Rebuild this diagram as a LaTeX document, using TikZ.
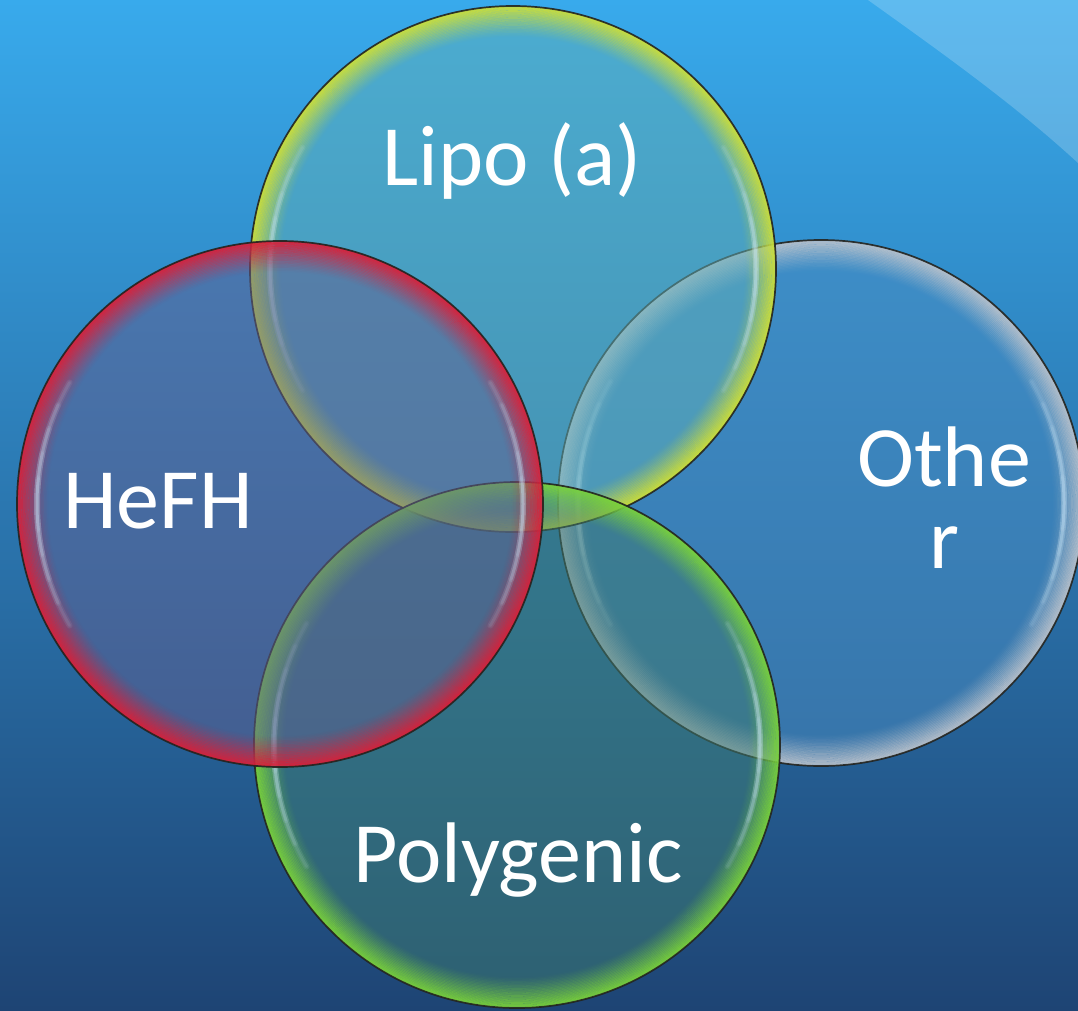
\documentclass[tikz,border=0pt]{standalone}
\usepackage{fontspec}
\setmainfont{Carlito}
\definecolor{bgtop}{RGB}{56,170,236}
\definecolor{bgmid}{RGB}{43,124,186}
\definecolor{bgbot}{RGB}{30,68,116}
\definecolor{lipofill}{RGB}{96,176,184}
\definecolor{hefhfill}{RGB}{98,96,146}
\definecolor{otherfill}{RGB}{74,140,194}
\definecolor{polyfill}{RGB}{62,124,112}
\definecolor{lipoglow}{RGB}{212,226,48}
\definecolor{hefhglow}{RGB}{225,28,52}
\definecolor{otherglow}{RGB}{190,196,204}
\definecolor{polyglow}{RGB}{125,215,55}
\definecolor{hilite}{RGB}{205,232,250}
\definecolor{rim}{RGB}{35,35,30}
\tikzset{
  bubble/.style={circle, minimum size=526pt, inner sep=0pt, outer sep=0pt},
  label text/.style={text=white, font=\fontsize{86}{82}\selectfont, inner sep=0pt},
}
% #1 name, #2 fill, #3 glow colour
\newcommand\mybubble[3]{%
  \fill[#2, opacity=0.5] (#1.center) circle[radius=263];
  \foreach \i [evaluate=\i as \op using {0.88*(1-\i/22)^1.3},
               evaluate=\i as \rr using {262.2-1.4*\i}] in {0,...,21}
    {\draw[#3, line width=1.6pt, opacity=\op] (#1.center) circle[radius=\rr];}
  \foreach \s in {6,12,18,24,30}
    {\draw[hilite, line width=3pt, opacity=0.10, line cap=round]
       (#1.center) ++(180-\s:243) arc[start angle=180-\s, end angle=180+\s, radius=243];
     \draw[hilite, line width=6pt, opacity=0.08, line cap=round]
       (#1.center) ++(180-\s:243) arc[start angle=180-\s, end angle=180+\s, radius=243];
     \draw[hilite, line width=3pt, opacity=0.10, line cap=round]
       (#1.center) ++(-\s:243) arc[start angle=-\s, end angle=\s, radius=243];
     \draw[hilite, line width=6pt, opacity=0.08, line cap=round]
       (#1.center) ++(-\s:243) arc[start angle=-\s, end angle=\s, radius=243];}
  \draw[rim, line width=1.7pt, opacity=0.9] (#1.center) circle[radius=263];
}
\begin{document}
\begin{tikzpicture}[x=1pt, y=-1pt]
  \useasboundingbox (0,0) rectangle (1078,1010);
  \shade[top color=bgtop, middle color=bgmid, bottom color=bgbot] (0,0) rectangle (1078,1010);
  \fill[white, opacity=0.2] (868,0) .. controls (945,55) and (1015,105) .. (1078,163) -- (1078,0) -- cycle;

  \node[bubble] (other) at (821,503) {};
  \node[bubble] (lipo)  at (513,269) {};
  \node[bubble] (poly)  at (517,745) {};
  \node[bubble] (hefh)  at (280,504) {};

  \mybubble{other}{otherfill}{otherglow}
  \mybubble{lipo}{lipofill}{lipoglow}
  \mybubble{poly}{polyfill}{polyglow}
  \mybubble{hefh}{hefhfill}{hefhglow}

  \node[label text, anchor=base] (lipotxt) at (512,185) {Lipo (a)};
  \node[label text, anchor=base] (hefhtxt) at (158,528) {HeFH};
  \node[label text, anchor=base] (othertxt1) at (944,486) {Othe};
  \node[label text, anchor=base] (othertxt2) at (944,568) {r};
  \node[label text, anchor=base] (polytxt) at (518,882) {Polygenic};
\end{tikzpicture}
\end{document}
